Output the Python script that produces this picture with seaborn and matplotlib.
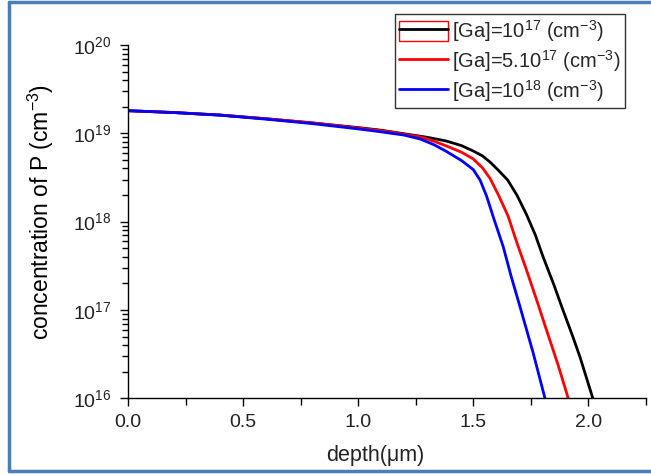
import numpy as np
import pandas as pd
import matplotlib
matplotlib.use("Agg")
import matplotlib.pyplot as plt
import matplotlib.ticker as mticker
from matplotlib.patches import Rectangle
from matplotlib.lines import Line2D
from matplotlib.legend_handler import HandlerTuple
import seaborn as sns

# ---- data (log10 of concentration) ----
depth_1e17 = [0.0, 0.2, 0.4, 0.6, 0.8, 1.0, 1.1, 1.2, 1.3, 1.38, 1.45, 1.5, 1.54, 1.575,
              1.61, 1.65, 1.69, 1.73, 1.77, 1.804, 1.85, 1.89, 1.93, 1.964, 2.02]
logc_1e17 = [19.256, 19.235, 19.207, 19.165, 19.118, 19.065, 19.035, 18.995, 18.955, 18.915,
             18.86, 18.80, 18.745, 18.67, 18.58, 18.47, 18.30, 18.09, 17.85, 17.60, 17.29,
             17.00, 16.72, 16.47, 16.0]

depth_5e17 = [0.0, 0.2, 0.4, 0.6, 0.8, 1.0, 1.1, 1.2, 1.27, 1.33, 1.38, 1.45, 1.5, 1.54, 1.573,
              1.61, 1.652, 1.69, 1.732, 1.78, 1.819, 1.87, 1.913]
logc_5e17 = [19.256, 19.235, 19.207, 19.165, 19.118, 19.06, 19.03, 18.99, 18.96, 18.91, 18.86,
             18.785, 18.71, 18.61, 18.49, 18.30, 18.06, 17.76, 17.45, 17.08, 16.77, 16.37, 16.0]

depth_1e18 = [0.0, 0.2, 0.4, 0.6, 0.8, 1.0, 1.09, 1.2, 1.27, 1.33, 1.38, 1.45, 1.5, 1.53, 1.558,
              1.59, 1.63, 1.665, 1.703, 1.76, 1.812]
logc_1e18 = [19.256, 19.235, 19.205, 19.16, 19.11, 19.05, 19.02, 18.98, 18.935, 18.87, 18.80,
             18.69, 18.59, 18.47, 18.29, 18.03, 17.72, 17.38, 17.04, 16.52, 16.0]

labels = ["[Ga]=10$^{17}$ (cm$^{-3}$)", "[Ga]=5.10$^{17}$ (cm$^{-3}$)", "[Ga]=10$^{18}$ (cm$^{-3}$)"]
colors = ["#000000", "#ff0000", "#0000ff"]

frames = []
for d, v, lab in zip([depth_1e17, depth_5e17, depth_1e18],
                     [logc_1e17, logc_5e17, logc_1e18], labels):
    frames.append(pd.DataFrame({"depth": d, "conc": 10 ** np.array(v), "series": lab}))
df = pd.concat(frames, ignore_index=True)

sns.set_style("ticks")
plt.rcParams["font.family"] = ["Liberation Sans", "DejaVu Sans"]
plt.rcParams["mathtext.fontset"] = "custom"
plt.rcParams["mathtext.rm"] = "Liberation Sans"
plt.rcParams["mathtext.it"] = "Liberation Sans:italic"

fig = plt.figure(figsize=(6.51, 4.75), dpi=100)
ax = fig.add_axes([128.3 / 651, 1 - 398.3 / 475, (645.7 - 128.3) / 651, (398.3 - 45) / 475])

sns.lineplot(data=df, x="depth", y="conc", hue="series", palette=colors,
             hue_order=labels, linewidth=2, ax=ax, legend=False, sort=False)

ax.set_yscale("log")
ax.set_ylim(1e16, 1e20)
ax.set_xlim(0, 2.25)
ax.xaxis.set_major_locator(mticker.MultipleLocator(0.5))
ax.xaxis.set_minor_locator(mticker.MultipleLocator(0.25))
ax.xaxis.set_major_formatter(mticker.FormatStrFormatter("%.1f"))
ax.yaxis.set_major_locator(mticker.LogLocator(base=10, numticks=10))
ax.yaxis.set_minor_locator(mticker.LogLocator(base=10, subs=np.arange(2, 10), numticks=20))
ax.yaxis.set_minor_formatter(mticker.NullFormatter())

for s in ["top", "right"]:
    ax.spines[s].set_visible(False)
for s in ["left", "bottom"]:
    ax.spines[s].set_color("black")
    ax.spines[s].set_linewidth(1.0)

ax.tick_params(axis="both", which="major", direction="out", length=6, width=1,
               color="black", labelsize=14, labelcolor="#222222")
ax.tick_params(axis="both", which="minor", direction="out", length=4, width=1, color="black")
ax.tick_params(axis="x", which="minor", length=5)
ax.tick_params(axis="x", pad=5)
ax.tick_params(axis="y", pad=6)

ax.set_xlabel("depth(μm)", fontsize=15.5, color="#222222")
ax.set_ylabel("concentration of P (cm$^{-3}$)", fontsize=16.5, color="black")
ax.xaxis.set_label_coords((375 - 128.3) / 517.4, (398.3 - 445) / 353.3)
ax.yaxis.set_label_coords((56 - 128.3) / 517.4, 1 - (212 - 45) / 353.3)

# legend
first = (Rectangle((0, 0), 1, 1, facecolor="none", edgecolor="red", linewidth=1),
         Line2D([], [], color=colors[0], linewidth=2))
handles = [first,
           Line2D([], [], color=colors[1], linewidth=2),
           Line2D([], [], color=colors[2], linewidth=2)]
leg = fig.legend(handles, labels, loc="upper right", bbox_to_anchor=(625 / 651, 1 - 14 / 475),
                 handler_map={tuple: HandlerTuple(ndivide=1, pad=0)},
                 fontsize=14.5, frameon=True, fancybox=False, edgecolor="black",
                 handlelength=2.45, handleheight=1.15, handletextpad=0.2, borderpad=0.2,
                 labelspacing=0.2, borderaxespad=0)
leg.get_frame().set_linewidth(1.0)

# outer blue border
border_color = "#4a7ebb"
fig.add_artist(Line2D([9 / 651, 9 / 651], [1 - 2 / 475, 1 - 471 / 475], color=border_color,
                      linewidth=2.5, transform=fig.transFigure))
fig.add_artist(Line2D([9 / 651, 1], [1 - 2 / 475, 1 - 2 / 475], color=border_color,
                      linewidth=2.5, transform=fig.transFigure))
fig.add_artist(Line2D([9 / 651, 1], [1 - 471 / 475, 1 - 471 / 475], color=border_color,
                      linewidth=2.5, transform=fig.transFigure))

fig.savefig("out.png", dpi=100)
